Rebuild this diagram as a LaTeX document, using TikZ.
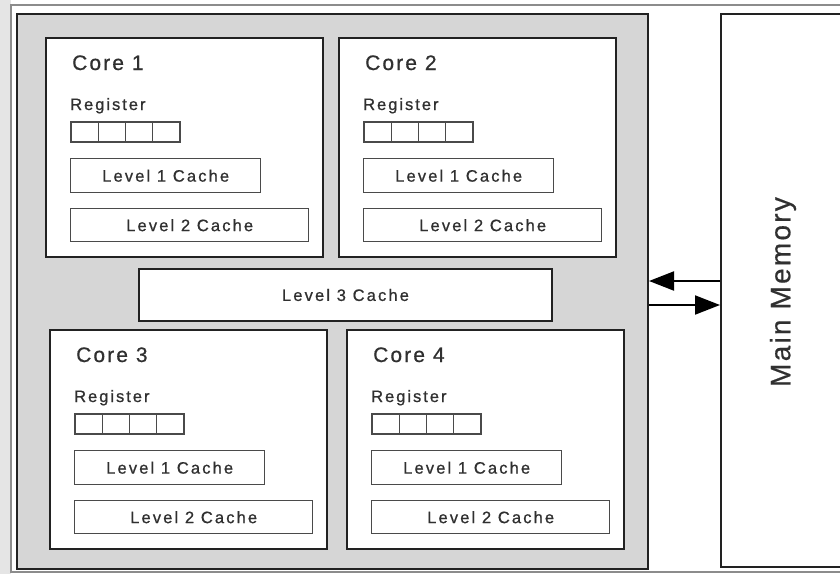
\documentclass[tikz,border=0pt]{standalone}
\usepackage{fontspec}
\setmainfont{Liberation Sans}
\usetikzlibrary{calc,arrows.meta}

\definecolor{chipgray}{HTML}{D6D6D6}
\definecolor{inkdark}{HTML}{222222}
\definecolor{inkbox}{HTML}{4A4A4A}
\definecolor{inktext}{HTML}{303030}

\tikzset{
  chipbox/.style={draw=inkdark, line width=2pt, fill=chipgray, inner sep=0pt},
  corebox/.style={draw=inkdark, line width=2.2pt, fill=white, inner sep=0pt,
    minimum width=277pt, minimum height=219pt},
  cachebox/.style={draw=inkbox, line width=1.4pt, fill=white, inner sep=0pt,
    text=inktext, font=\fontsize{16.5}{16.5}\selectfont\addfontfeature{LetterSpace=13,FakeBold=0.8}},
  regcell/.style={draw=inkbox, line width=1.3pt, fill=white, inner sep=0pt,
    outer sep=0pt, minimum width=27.25pt, minimum height=20pt},
  corelabel/.style={inner sep=0pt, text=inktext,
    font=\fontsize{21}{21}\selectfont\addfontfeature{LetterSpace=10,FakeBold=0.6}},
  reglabel/.style={inner sep=0pt, text=inktext,
    font=\fontsize{16.5}{16.5}\selectfont\addfontfeature{LetterSpace=12,FakeBold=0.8}},
  memlabel/.style={inner sep=0pt, text=inktext, rotate=90,
    font=\fontsize{28}{28}\selectfont\addfontfeature{LetterSpace=8,FakeBold=0.5}},
  link/.style={draw=black, line width=2pt, -{Triangle[length=25pt,width=19pt]}},
}

% One processor core: #1 name, #2 left, #3 top, #4 number
\newcommand\drawcore[4]{%
  \node[corebox, anchor=north west] (#1) at (#2,#3) {};
  \node[corelabel, anchor=base west] (#1t) at ($(#1.north west)+(27,33)$) {Core #4};
  \node[reglabel, anchor=base west] (#1rl) at ($(#1.north west)+(25,73)$) {Register};
  \node[regcell, anchor=north west] (#1r1) at ($(#1.north west)+(26,85)$) {};
  \node[regcell, anchor=west] (#1r2) at (#1r1.east) {};
  \node[regcell, anchor=west] (#1r3) at (#1r2.east) {};
  \node[regcell, anchor=west] (#1r4) at (#1r3.east) {};
  \node[cachebox, anchor=north west, minimum width=190pt, minimum height=34pt]
    (#1l1) at ($(#1.north west)+(25,121)$) {Level 1 Cache};
  \node[cachebox, anchor=north west, minimum width=238pt, minimum height=33pt]
    (#1l2) at ($(#1.north west)+(25,171)$) {Level 2 Cache};
}

\begin{document}
\begin{tikzpicture}[x=1pt, y=-1pt]
  \useasboundingbox (0,0) rectangle (840,574);
  \clip (0,0) rectangle (840,574);

  % page frame
  \fill[black!10] (0,0) rectangle (11,574);
  \draw[black!45, line width=1.5pt] (11,5) rectangle (860,572);

  % processor die
  \node[chipbox, anchor=north west, minimum width=631pt, minimum height=555pt]
    (chip) at (16,13) {};

  \drawcore{c1}{45}{37}{1}
  \drawcore{c2}{338}{37}{2}
  \drawcore{c3}{49}{329}{3}
  \drawcore{c4}{346}{329}{4}

  % shared cache
  \node[cachebox, draw=inkdark, line width=2pt, anchor=north west,
    minimum width=413pt, minimum height=52pt] (l3) at (138,268) {Level 3 Cache};

  % main memory
  \node[draw=inkdark, line width=2pt, fill=white, anchor=north west,
    minimum width=200pt, minimum height=553pt, inner sep=0pt] (mem) at (720,13) {};
  \node[memlabel] (memt) at (783,292) {Main Memory};

  % memory bus
  \coordinate (busin) at (0,281);
  \coordinate (busout) at (0,305);
  \draw[link] (mem.west |- busin) -- (chip.east |- busin);
  \draw[link] (chip.east |- busout) -- (mem.west |- busout);
\end{tikzpicture}
\end{document}
